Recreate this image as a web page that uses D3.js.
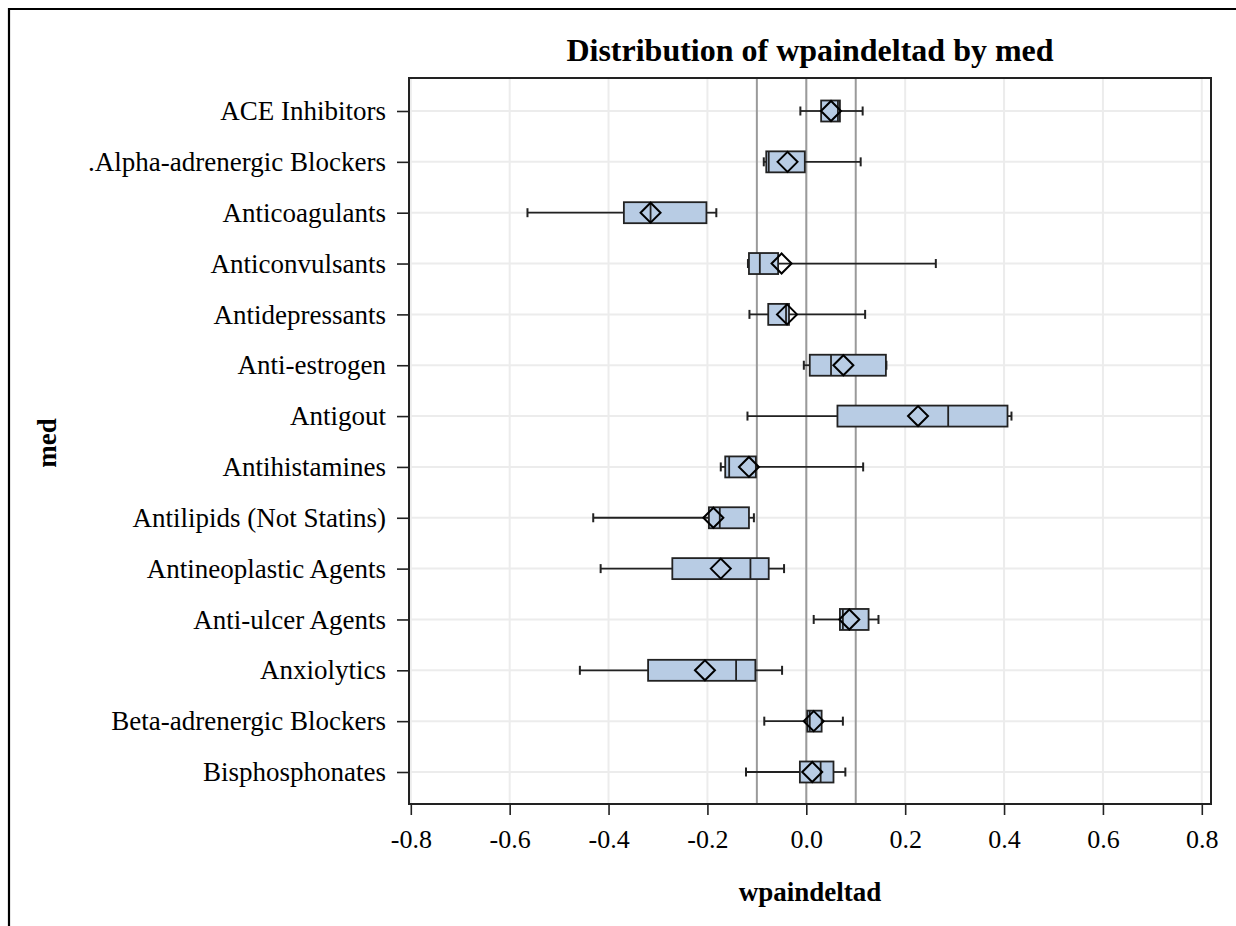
<!DOCTYPE html>
<html><head><meta charset="utf-8">
<script src="https://cdn.jsdelivr.net/npm/d3@7"></script>
<style>body{margin:0;background:#fff;} svg{display:block;}</style>
</head><body>
<svg id="c" width="1236" height="926"></svg>
<script>
const categories = ["ACE Inhibitors", ".Alpha-adrenergic Blockers", "Anticoagulants", "Anticonvulsants",
  "Antidepressants", "Anti-estrogen", "Antigout", "Antihistamines", "Antilipids (Not Statins)",
  "Antineoplastic Agents", "Anti-ulcer Agents", "Anxiolytics", "Beta-adrenergic Blockers", "Bisphosphonates"];
const whiskerLow  = [-0.012, -0.086, -0.564, -0.118, -0.115, -0.005, -0.119, -0.173, -0.431, -0.416, 0.015, -0.458, -0.085, -0.122];
const q1          = [ 0.030, -0.081, -0.369, -0.116, -0.077,  0.007,  0.063, -0.164, -0.197, -0.271, 0.068, -0.320,  0.002, -0.013];
const median      = [ 0.064, -0.076, -0.315, -0.094, -0.041,  0.050,  0.287, -0.156, -0.175, -0.113, 0.074, -0.142,  0.007,  0.029];
const q3          = [ 0.068, -0.003, -0.202, -0.057, -0.035,  0.161,  0.407, -0.102, -0.116, -0.076, 0.126, -0.103,  0.031,  0.055];
const whiskerHigh = [ 0.114,  0.110, -0.182,  0.262,  0.119,  0.162,  0.415,  0.115, -0.106, -0.045, 0.146, -0.049,  0.074,  0.079];
const means       = [ 0.050, -0.038, -0.315, -0.050, -0.039,  0.075,  0.226, -0.116, -0.188, -0.173, 0.087, -0.205,  0.015,  0.012];
const xTicks = [-0.8, -0.6, -0.4, -0.2, 0.0, 0.2, 0.4, 0.6, 0.8];
const refLines = [-0.1, 0, 0.1];

const svg = d3.select("#c");
const font = "'Liberation Serif','Times New Roman',serif";
const L = 409, R = 1211, T = 78, B = 804;

// outer border
svg.append("path").attr("d", `M9,926 L9,9 L1236,9`).attr("fill","none").attr("stroke","#000").attr("stroke-width",2.2);

const x = d3.scaleLinear().domain([-0.8, 0.8]).range([410.8, 1201.8]);
const y = d3.scalePoint().domain(categories).range([111, 772]);

// grid
const g = svg.append("g");
g.selectAll(".vg").data(xTicks).join("line").attr("x1", d=>x(d)).attr("x2", d=>x(d)).attr("y1", T).attr("y2", B)
  .attr("stroke", "#ececec").attr("stroke-width", 2);
g.selectAll(".hg").data(categories).join("line").attr("x1", L).attr("x2", R).attr("y1", d=>y(d)).attr("y2", d=>y(d))
  .attr("stroke", "#ececec").attr("stroke-width", 2);
// reference lines
g.selectAll(".ref").data(refLines).join("line").attr("x1", d=>x(d)).attr("x2", d=>x(d)).attr("y1", T).attr("y2", B)
  .attr("stroke", "#9a9a9a").attr("stroke-width", 2);

const idx = d3.range(categories.length);
const bh = 10.5, cap = 4.5, dm = 10;
const boxes = svg.append("g");
idx.forEach(i => {
  const cy = y(categories[i]);
  const gg = boxes.append("g");
  gg.append("line").attr("x1", x(whiskerLow[i])).attr("x2", x(q1[i])).attr("y1", cy).attr("y2", cy).attr("stroke","#222").attr("stroke-width",1.8);
  gg.append("line").attr("x1", x(q3[i])).attr("x2", x(whiskerHigh[i])).attr("y1", cy).attr("y2", cy).attr("stroke","#222").attr("stroke-width",1.8);
  [whiskerLow[i], whiskerHigh[i]].forEach(v => gg.append("line").attr("x1", x(v)).attr("x2", x(v)).attr("y1", cy-cap).attr("y2", cy+cap).attr("stroke","#222").attr("stroke-width",2));
  gg.append("rect").attr("x", x(q1[i])).attr("y", cy-bh).attr("width", x(q3[i])-x(q1[i])).attr("height", 2*bh)
    .attr("fill", "#b8cce4").attr("stroke", "#222").attr("stroke-width", 1.8);
  gg.append("line").attr("x1", x(median[i])).attr("x2", x(median[i])).attr("y1", cy-bh).attr("y2", cy+bh).attr("stroke","#222").attr("stroke-width",1.8);
  const mx = x(means[i]);
  gg.append("path").attr("d", `M${mx-dm},${cy} L${mx},${cy-dm} L${mx+dm},${cy} L${mx},${cy+dm} Z`)
    .attr("fill","none").attr("stroke","#000").attr("stroke-width",2);
});

// frame
svg.append("rect").attr("x", L).attr("y", T).attr("width", R-L).attr("height", B-T).attr("fill","none").attr("stroke","#222").attr("stroke-width",2);

// x axis
const fmt = d => d3.format(".1f")(d).replace("\u2212", "-");
const xa = svg.append("g").attr("transform", `translate(0,${B})`)
  .call(d3.axisBottom(x).tickValues(xTicks).tickFormat(fmt).tickSize(11).tickPadding(15));
xa.select(".domain").remove();
xa.selectAll("line").attr("stroke","#222").attr("stroke-width",1.6);
xa.selectAll("text").attr("font-family", font).attr("font-size", 26).attr("fill","#000");

// y axis
const ya = svg.append("g").attr("transform", `translate(${L},0)`)
  .call(d3.axisLeft(y).tickSize(12).tickPadding(11));
ya.select(".domain").remove();
ya.selectAll("line").attr("stroke","#222").attr("stroke-width",1.6);
ya.selectAll("text").attr("font-family", font).attr("font-size", 27).attr("fill","#000");

// titles
svg.append("text").attr("x", 810).attr("y", 61).attr("text-anchor","middle").attr("font-family", font)
  .attr("font-weight","bold").attr("font-size", 32).text("Distribution of wpaindeltad by med");
svg.append("text").attr("x", 810).attr("y", 901).attr("text-anchor","middle").attr("font-family", font)
  .attr("font-weight","bold").attr("font-size", 27).text("wpaindeltad");
svg.append("text").attr("transform","translate(56,443) rotate(-90)").attr("text-anchor","middle").attr("font-family", font)
  .attr("font-weight","bold").attr("font-size", 27).text("med");
</script>
</body></html>
